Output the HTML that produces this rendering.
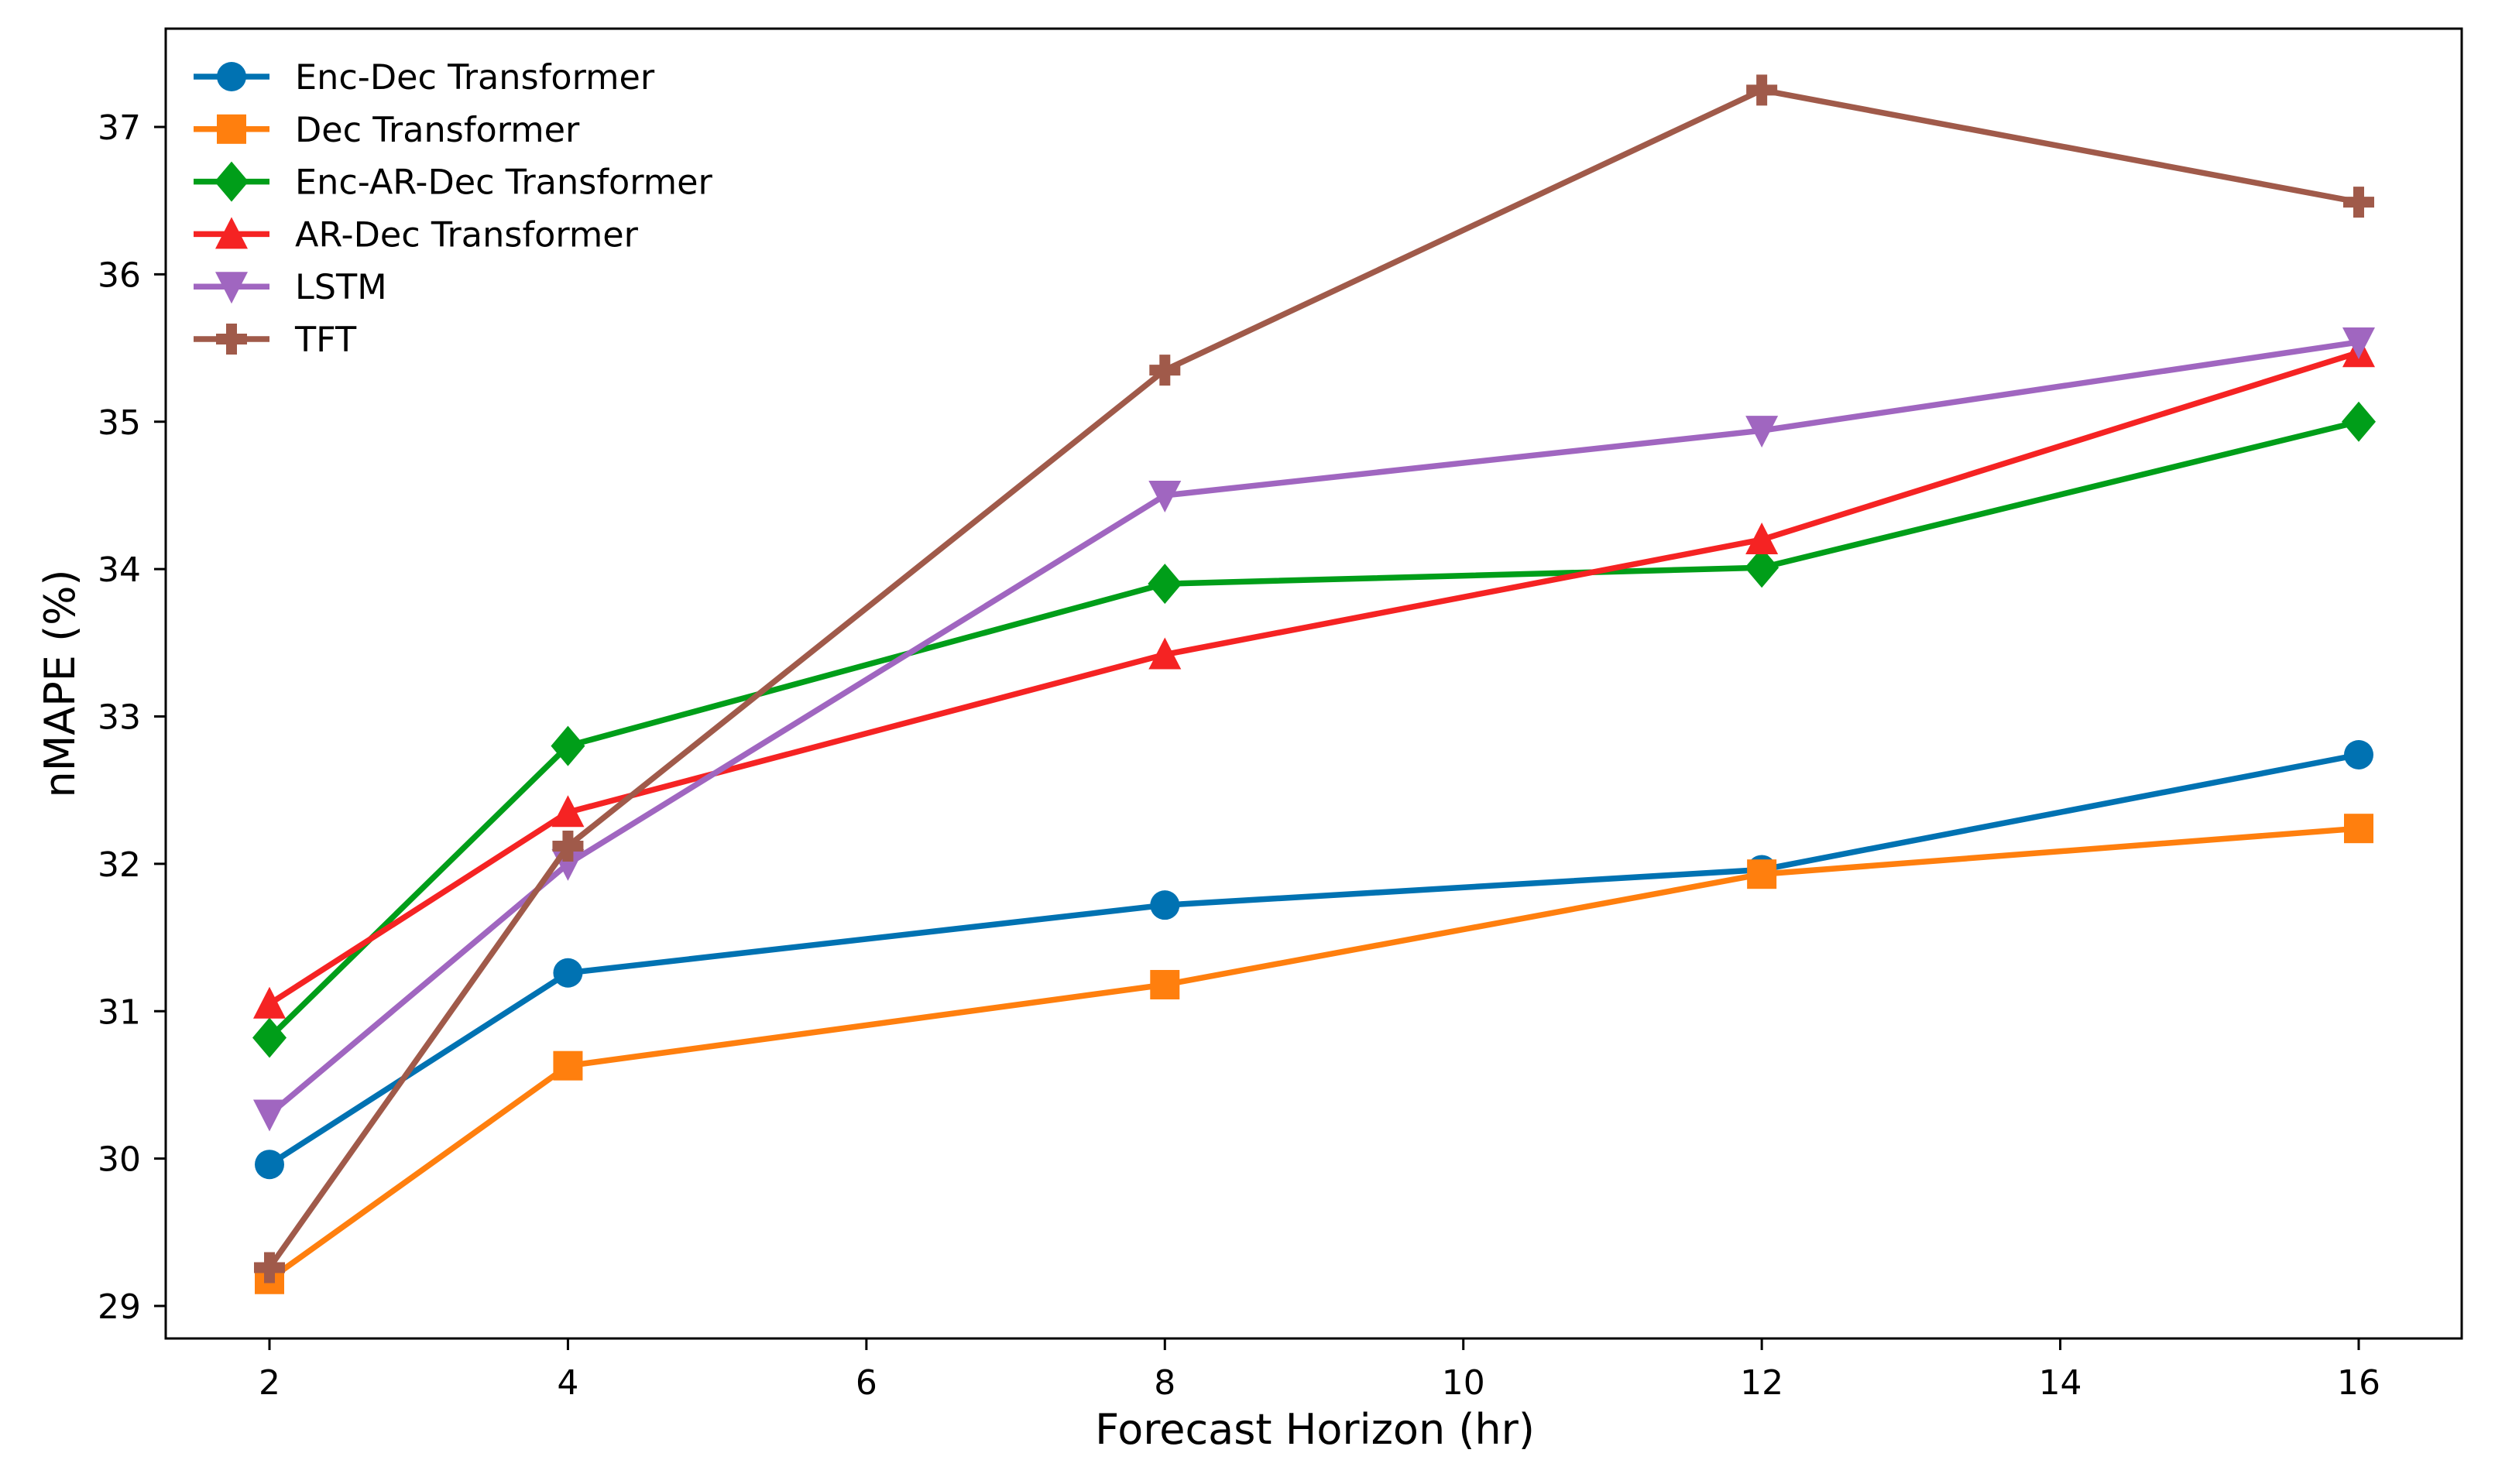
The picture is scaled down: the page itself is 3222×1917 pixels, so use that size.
<!DOCTYPE html>
<html><head><meta charset="utf-8"><style>
html,body{margin:0;padding:0;background:#fff;}
svg{display:block;font-family:"DejaVu Sans","Liberation Sans",sans-serif;}
</style></head><body>
<svg id="chart" width="3222" height="1917" viewBox="0 0 3222 1917" xmlns="http://www.w3.org/2000/svg">
<rect width="3222" height="1917" fill="#fff"/>
<g id="plot"></g>
<rect x="214" y="37" width="2965" height="1692" fill="none" stroke="#000" stroke-width="3"/>
<text x="1698" y="1865" font-size="54" text-anchor="middle">Forecast Horizon (hr)</text>
<text x="0" y="0" font-size="54" text-anchor="middle" transform="translate(96,883) rotate(-90)">nMAPE (%)</text>
<g id="legend"></g>
</svg>
<script>
const categories = [2, 4, 8, 12, 16];
const xTicks = [2, 4, 6, 8, 10, 12, 14, 16];
const yTicks = [29, 30, 31, 32, 33, 34, 35, 36, 37];
const seriesNames = ["Enc-Dec Transformer","Dec Transformer","Enc-AR-Dec Transformer","AR-Dec Transformer","LSTM","TFT"];
const encDec = [29.96, 31.26, 31.72, 31.96, 32.74];
const dec = [29.18, 30.63, 31.18, 31.93, 32.24];
const encArDec = [30.82, 32.80, 33.90, 34.01, 35.00];
const arDec = [31.05, 32.35, 33.42, 34.20, 35.47];
const lstm = [30.30, 32.00, 34.50, 34.94, 35.54];
const tft = [29.26, 32.12, 35.35, 37.25, 36.49];

const NS = "http://www.w3.org/2000/svg";
const colors = ["#0072b2","#ff7f0e","#009e19","#f52323","#a066c0","#a05a4a"];
const markers = ["circle","square","diamond","tri-up","tri-down","plus"];
const allSeries = [encDec, dec, encArDec, arDec, lstm, tft];
const L=214,R=3179,T=37,B=1729;
function xs(v){return 348 + (v-2)*(3046-348)/14;}
function ys(v){return 1687 - (v-29)*(1687-164)/8;}
function mk(tag, attrs, parent){const e=document.createElementNS(NS,tag);for(const k in attrs)e.setAttribute(k,attrs[k]);parent.appendChild(e);return e;}
const plot=document.getElementById('plot');
const svg=document.getElementById('chart');

xTicks.forEach(t=>{
  const g=mk('g',{},svg);
  
  
  mk('line',{x1:xs(t),x2:xs(t),y1:B,y2:B+15,stroke:'#000','stroke-width':3},g);
  const tx=mk('text',{x:xs(t),y:1801,'font-size':44,'text-anchor':'middle'},g);tx.textContent=t;
});
yTicks.forEach(t=>{
  const g=mk('g',{},svg);
  
  
  mk('line',{x1:L-15,x2:L,y1:ys(t),y2:ys(t),stroke:'#000','stroke-width':3},g);
  const tx=mk('text',{x:182,y:ys(t)+16,'font-size':44,'text-anchor':'end'},g);tx.textContent=t;
});

function drawMarker(type,x,y,c,parent){
  const s=19;
  let e;
  if(type==='circle') e=mk('circle',{cx:x,cy:y,r:s,fill:c},parent);
  else if(type==='square') e=mk('rect',{x:x-s,y:y-s,width:2*s,height:2*s,fill:c},parent);
  else if(type==='diamond') e=mk('polygon',{points:`${x},${y-26} ${x+22},${y} ${x},${y+26} ${x-22},${y}`,fill:c},parent);
  else if(type==='tri-up') e=mk('polygon',{points:`${x},${y-22} ${x+21},${y+19} ${x-21},${y+19}`,fill:c},parent);
  else if(type==='tri-down') e=mk('polygon',{points:`${x},${y+22} ${x+21},${y-19} ${x-21},${y-19}`,fill:c},parent);
  else e=mk('path',{d:`M${x-7},${y-20}h14v13h13v14h-13v13h-14v-13h-13v-14h13z`,fill:c},parent);
  return e;
}

allSeries.forEach((vals,i)=>{
  const g=mk('g',{},plot);
  
  
  const pts=vals.map((v,j)=>xs(categories[j])+','+ys(v)).join(' ');
  const pl=mk('polyline',{points:pts,fill:'none',stroke:colors[i],'stroke-width':7.5,'stroke-linejoin':'round'},g);
  
  
  vals.forEach((v,j)=>{
    const m=drawMarker(markers[i],xs(categories[j]),ys(v),colors[i],g);
    
    
  });
});

const lg=document.getElementById('legend');
seriesNames.forEach((n,i)=>{
  const y=99+i*67.8;
  const g=mk('g',{},lg);
  
  
  mk('line',{x1:250,x2:348,y1:y,y2:y,stroke:colors[i],'stroke-width':7.5},g);
  drawMarker(markers[i],299,y,colors[i],g);
  const t=mk('text',{x:381,y:y+16,'font-size':44.5},g);t.textContent=n;
});
</script>
</body></html>
